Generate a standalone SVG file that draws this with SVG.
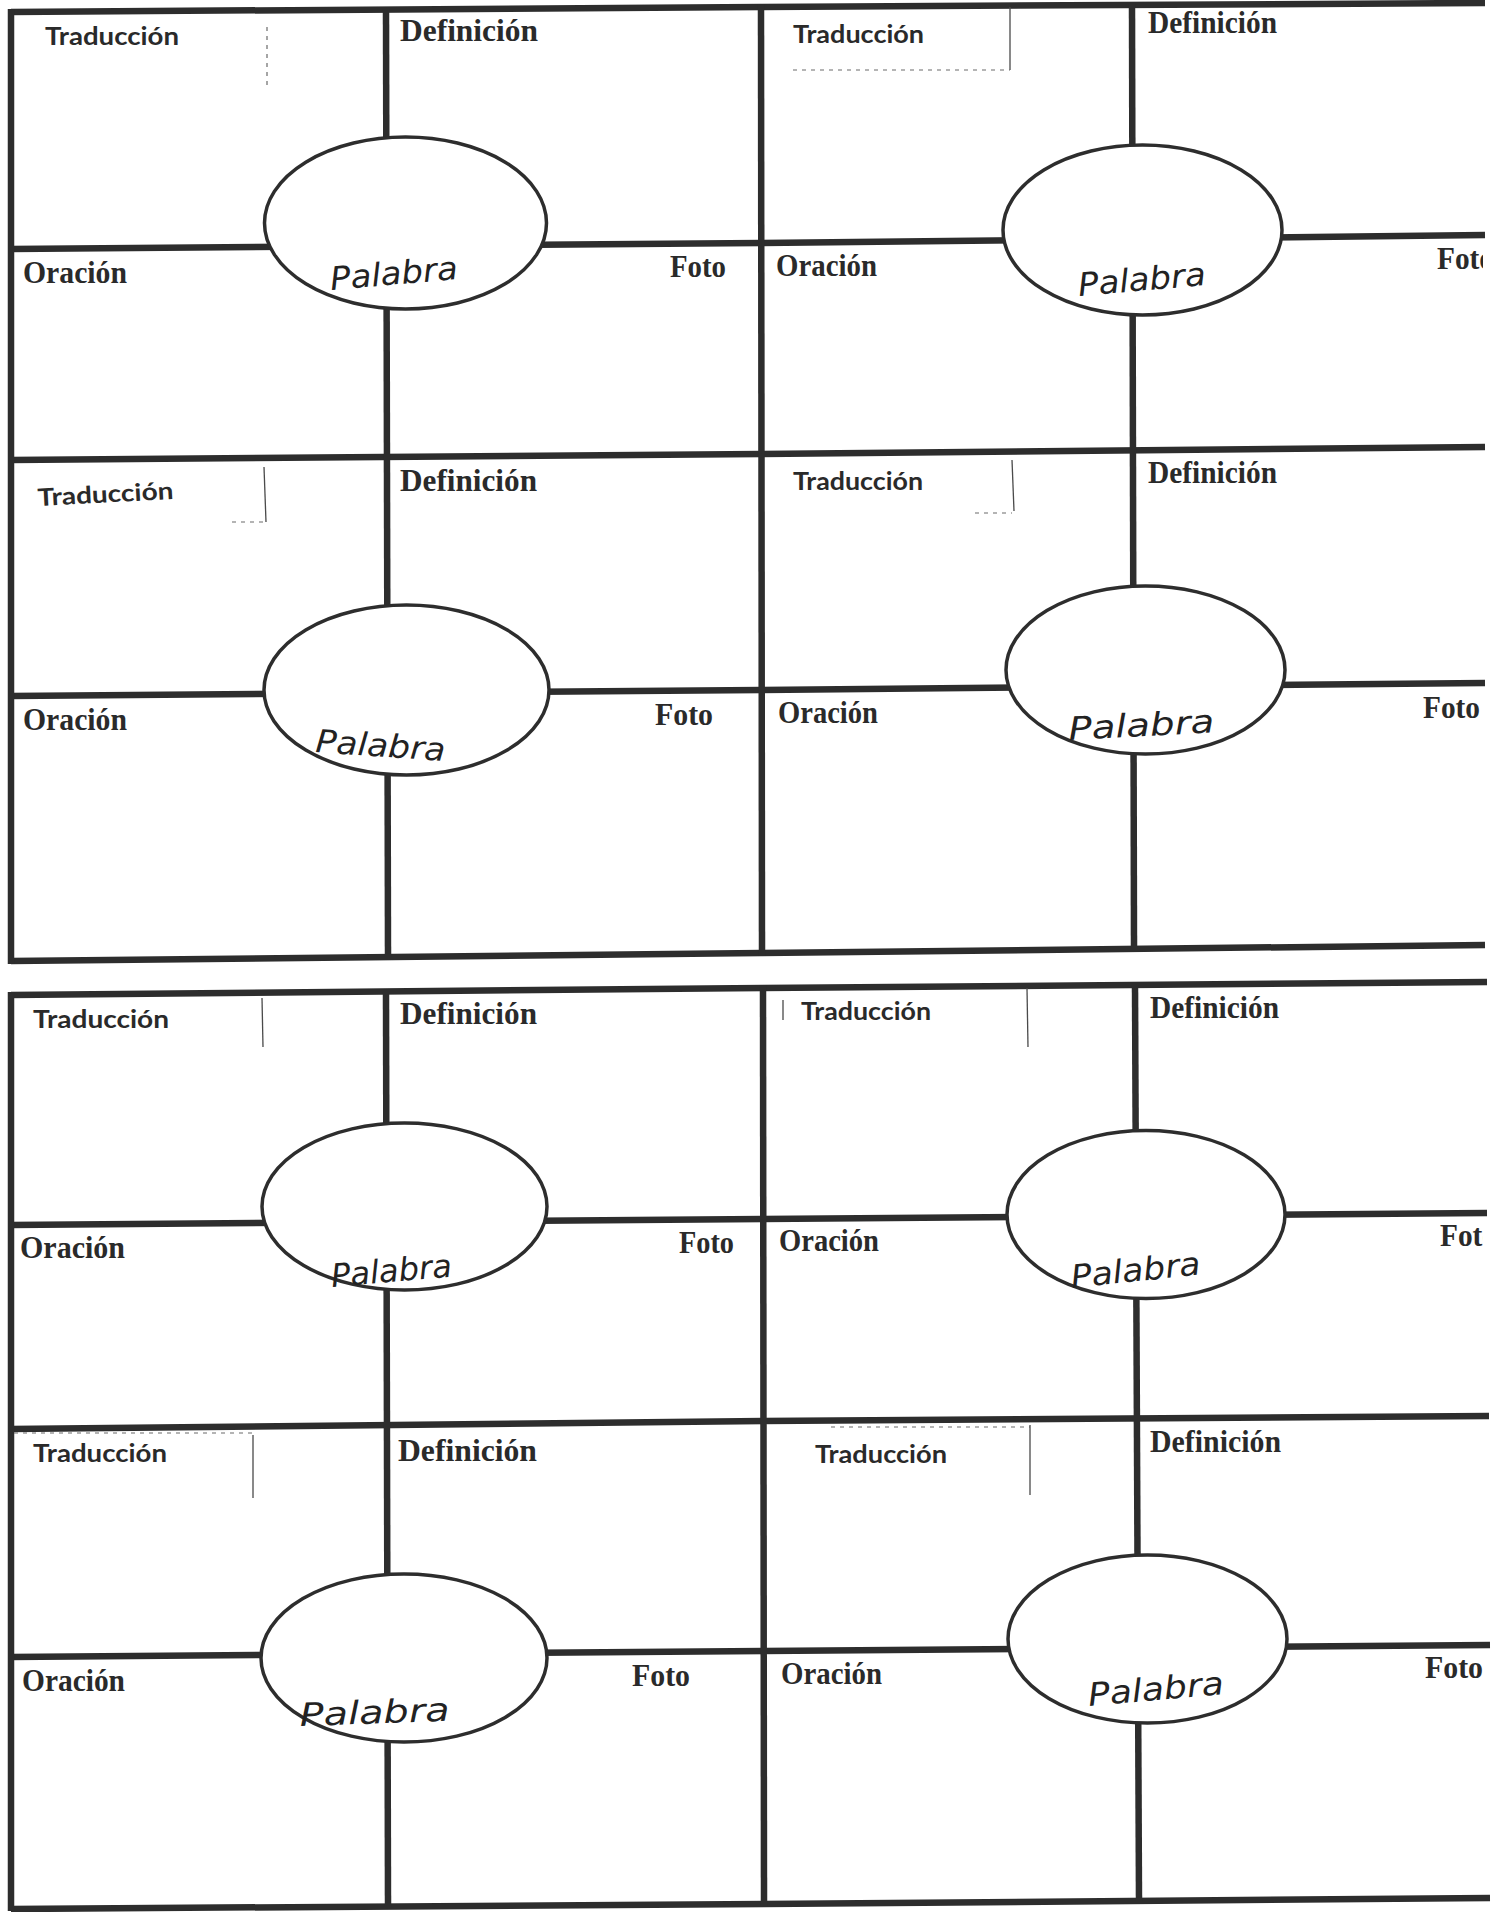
<svg xmlns="http://www.w3.org/2000/svg" width="1494" height="1912" viewBox="0 0 1494 1912">
<style>
.ln{stroke:#2d2d2d;stroke-width:6.5;fill:none;stroke-linejoin:round}
.ov{fill:#fff;stroke:#2d2d2d;stroke-width:3.5}
.bx{stroke:#4a4a4a;stroke-width:1.3;fill:none}
.bd{stroke:#6a6a6a;stroke-width:1.2;fill:none;stroke-dasharray:4 5}
.tr{font-family:"Lato","Liberation Sans",sans-serif;font-weight:700;font-size:24px;fill:#2a2a2a}
.se{font-family:"Liberation Serif",serif;font-weight:700;font-size:31px;fill:#2a2a2a}
.hw{font-family:"DejaVu Sans",sans-serif;font-style:oblique;font-weight:200;font-size:32px;fill:#222}
</style>
<defs>
<clipPath id="page"><rect x="0" y="0" width="1483" height="1912"/></clipPath>
</defs>
<rect x="0" y="0" width="1494" height="1912" fill="#fff"/>

<g id="connectors">
<polyline class="ln" points="11,12 761,7 1485,3"/>
<polyline class="ln" points="11,460 761,454 1485,447"/>
<polyline class="ln" points="11,961 761,953 1485,945"/>
<polyline class="ln" points="11,249 761,243 1485,235"/>
<polyline class="ln" points="11,696 761,690 1485,683"/>
<line class="ln" x1="11" y1="9" x2="11" y2="964"/>
<line class="ln" x1="761" y1="4" x2="762" y2="956"/>
<line class="ln" x1="386" y1="9" x2="388" y2="957"/>
<line class="ln" x1="1132" y1="4" x2="1134" y2="948"/>
<polyline class="ln" points="11,995 763,988 1487,982"/>
<polyline class="ln" points="11,1429 763,1421 1489,1416"/>
<polyline class="ln" points="11,1909 764,1904 1490,1898"/>
<polyline class="ln" points="11,1225 763,1219 1487,1213"/>
<polyline class="ln" points="11,1657 764,1651 1490,1645"/>
<line class="ln" x1="11" y1="992" x2="11" y2="1911"/>
<line class="ln" x1="763" y1="985" x2="764" y2="1906"/>
<line class="ln" x1="386" y1="992" x2="388" y2="1907"/>
<line class="ln" x1="1135" y1="985" x2="1139" y2="1901"/>
</g>

<g id="card-1">
<line class="bd" x1="267" y1="27" x2="267" y2="90"/>
<text class="tr" x="45" y="45" textLength="134" lengthAdjust="spacingAndGlyphs">Traducción</text>
<text class="se" x="400" y="41" textLength="138" lengthAdjust="spacingAndGlyphs">Definición</text>
<text class="se" x="23" y="283" textLength="104" lengthAdjust="spacingAndGlyphs">Oración</text>
<text class="se" x="670" y="277" textLength="56" lengthAdjust="spacingAndGlyphs">Foto</text>
<ellipse class="ov" cx="405.5" cy="223" rx="141" ry="86"/>
<text class="hw" x="331" y="290" transform="rotate(-5 331 290)" textLength="128" lengthAdjust="spacingAndGlyphs">Palabra</text>
</g>

<g id="card-2">
<line class="bx" x1="1010" y1="7" x2="1010" y2="70"/>
<line class="bd" x1="793" y1="70" x2="1010" y2="70"/>
<text class="tr" x="793" y="43" textLength="131" lengthAdjust="spacingAndGlyphs">Traducción</text>
<text class="se" x="1148" y="33" textLength="129" lengthAdjust="spacingAndGlyphs">Definición</text>
<text class="se" x="776" y="276" textLength="101" lengthAdjust="spacingAndGlyphs">Oración</text>
<text class="se" x="1437" y="269" textLength="57" lengthAdjust="spacingAndGlyphs" clip-path="url(#page)">Foto</text>
<ellipse class="ov" cx="1142.5" cy="230" rx="139.5" ry="85"/>
<text class="hw" x="1079" y="296" transform="rotate(-5 1079 296)" textLength="128" lengthAdjust="spacingAndGlyphs">Palabra</text>
</g>

<g id="card-3">
<line class="bx" x1="264" y1="467" x2="266" y2="522"/>
<line class="bd" x1="232" y1="522" x2="265" y2="522"/>
<text class="tr" x="38" y="506" transform="rotate(-3 38 506)" textLength="136" lengthAdjust="spacingAndGlyphs">Traducción</text>
<text class="se" x="400" y="491" textLength="137" lengthAdjust="spacingAndGlyphs">Definición</text>
<text class="se" x="23" y="730" textLength="104" lengthAdjust="spacingAndGlyphs">Oración</text>
<text class="se" x="655" y="725" textLength="58" lengthAdjust="spacingAndGlyphs">Foto</text>
<ellipse class="ov" cx="406.5" cy="690" rx="142.5" ry="85"/>
<text class="hw" x="315" y="752" transform="rotate(4 315 752)" textLength="130" lengthAdjust="spacingAndGlyphs">Palabra</text>
</g>

<g id="card-4">
<line class="bx" x1="1012" y1="460" x2="1014" y2="511"/>
<line class="bd" x1="975" y1="513" x2="1012" y2="513"/>
<text class="tr" x="793" y="490" textLength="130" lengthAdjust="spacingAndGlyphs">Traducción</text>
<text class="se" x="1148" y="483" textLength="129" lengthAdjust="spacingAndGlyphs">Definición</text>
<text class="se" x="778" y="723" textLength="100" lengthAdjust="spacingAndGlyphs">Oración</text>
<text class="se" x="1423" y="718" textLength="57" lengthAdjust="spacingAndGlyphs">Foto</text>
<ellipse class="ov" cx="1145.5" cy="670" rx="139.5" ry="84"/>
<text class="hw" x="1069" y="740" transform="rotate(-3 1069 740)" textLength="146" lengthAdjust="spacingAndGlyphs">Palabra</text>
</g>

<g id="card-5">
<line class="bx" x1="262" y1="998" x2="263" y2="1047"/>
<text class="tr" x="33" y="1028" textLength="136" lengthAdjust="spacingAndGlyphs">Traducción</text>
<text class="se" x="400" y="1024" textLength="137" lengthAdjust="spacingAndGlyphs">Definición</text>
<text class="se" x="20" y="1258" textLength="105" lengthAdjust="spacingAndGlyphs">Oración</text>
<text class="se" x="679" y="1253" textLength="55" lengthAdjust="spacingAndGlyphs">Foto</text>
<ellipse class="ov" cx="404.5" cy="1206.5" rx="142.5" ry="83.5"/>
<text class="hw" x="332" y="1287" transform="rotate(-5 332 1287)" textLength="121" lengthAdjust="spacingAndGlyphs">Palabra</text>
</g>

<g id="card-6">
<line class="bx" x1="783" y1="1000" x2="783" y2="1020"/>
<line class="bx" x1="1027" y1="988" x2="1028" y2="1047"/>
<text class="tr" x="801" y="1020" textLength="130" lengthAdjust="spacingAndGlyphs">Traducción</text>
<text class="se" x="1150" y="1018" textLength="129" lengthAdjust="spacingAndGlyphs">Definición</text>
<text class="se" x="779" y="1251" textLength="100" lengthAdjust="spacingAndGlyphs">Oración</text>
<text class="se" x="1440" y="1246" textLength="57" lengthAdjust="spacingAndGlyphs" clip-path="url(#page)">Foto</text>
<ellipse class="ov" cx="1146" cy="1214.5" rx="139" ry="84"/>
<text class="hw" x="1072" y="1288" transform="rotate(-6 1072 1288)" textLength="130" lengthAdjust="spacingAndGlyphs">Palabra</text>
</g>

<g id="card-7">
<line class="bd" x1="14" y1="1433" x2="253" y2="1433"/>
<line class="bx" x1="253" y1="1435" x2="253" y2="1498"/>
<text class="tr" x="33" y="1462" textLength="134" lengthAdjust="spacingAndGlyphs">Traducción</text>
<text class="se" x="398" y="1461" textLength="139" lengthAdjust="spacingAndGlyphs">Definición</text>
<text class="se" x="22" y="1691" textLength="103" lengthAdjust="spacingAndGlyphs">Oración</text>
<text class="se" x="632" y="1686" textLength="58" lengthAdjust="spacingAndGlyphs">Foto</text>
<ellipse class="ov" cx="404" cy="1658" rx="143" ry="84"/>
<text class="hw" x="300" y="1726" transform="rotate(-2 300 1726)" textLength="150" lengthAdjust="spacingAndGlyphs">Palabra</text>
</g>

<g id="card-8">
<line class="bd" x1="831" y1="1427" x2="1030" y2="1427"/>
<line class="bx" x1="1030" y1="1425" x2="1030" y2="1495"/>
<text class="tr" x="815" y="1463" textLength="132" lengthAdjust="spacingAndGlyphs">Traducción</text>
<text class="se" x="1150" y="1452" textLength="131" lengthAdjust="spacingAndGlyphs">Definición</text>
<text class="se" x="781" y="1684" textLength="101" lengthAdjust="spacingAndGlyphs">Oración</text>
<text class="se" x="1425" y="1678" textLength="58" lengthAdjust="spacingAndGlyphs">Foto</text>
<ellipse class="ov" cx="1147.5" cy="1639" rx="139.5" ry="84"/>
<text class="hw" x="1089" y="1706" transform="rotate(-5 1089 1706)" textLength="136" lengthAdjust="spacingAndGlyphs">Palabra</text>
</g>
</svg>
